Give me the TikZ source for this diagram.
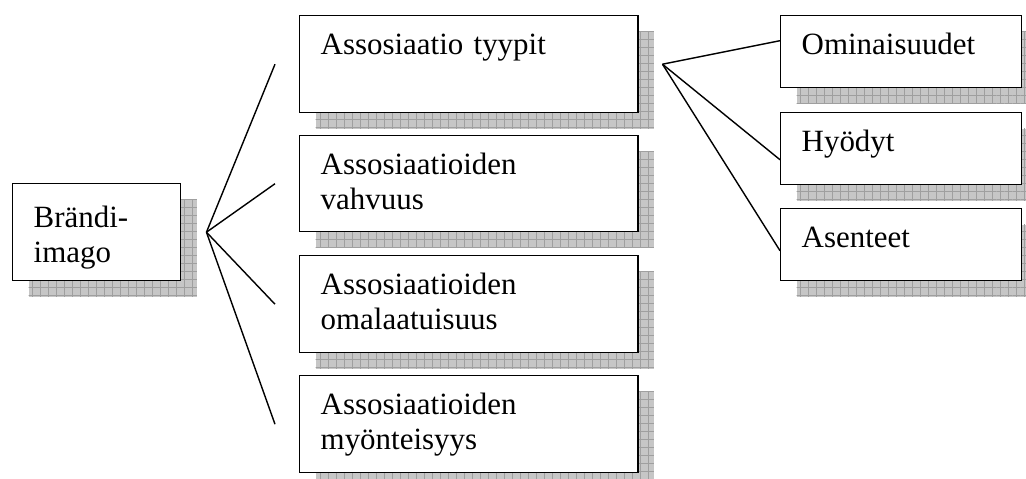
\documentclass[tikz,border=0pt]{standalone}
\usepackage{fontspec}
\setmainfont{Liberation Serif}
\usetikzlibrary{shadows,patterns.meta}

\tikzset{
  box/.style={draw, line width=1pt, fill=white, anchor=north west, align=left,
    inner xsep=0.525cm, inner ysep=0.375cm, text height=0.6cm,
    font=\fontsize{22}{25}\selectfont,
    drop shadow={shadow xshift=0.4cm, shadow yshift=-0.4cm, opacity=1, fill=gray!45,
      postaction={pattern={Hatch[distance=0.2cm, angle=0, line width=0.4pt]}, pattern color=gray!75}}},
  link/.style={line width=1pt}
}

\begin{document}
\begin{tikzpicture}[x=0.025cm,y=-0.025cm]
\useasboundingbox (0,0) rectangle (1026,479);

\node[box, text width=3.15cm, text height=0.725cm, text depth=0.95cm] (brandi) at (12,183) {Brändi-\\imago};

\node[box, text width=7.4cm, text depth=1.075cm] (tyypit) at (299,15) {Assosiaatio tyypit};
\node[box, text width=7.4cm, text depth=1.05cm] (vahvuus) at (299,135) {Assosiaatioiden\\vahvuus};
\node[box, text width=7.4cm, text depth=1.075cm] (omalaatu) at (299,255) {Assosiaatioiden\\omalaatuisuus};
\node[box, text width=7.4cm, text depth=1.075cm] (myonteis) at (299,375) {Assosiaatioiden\\myönteisyys};

\node[box, text width=4.975cm, text depth=0.45cm] (omin) at (780,15) {Ominaisuudet};
\node[box, text width=4.975cm, text depth=0.45cm] (hyodyt) at (780,112) {Hyödyt};
\node[box, text width=4.975cm, text depth=0.45cm] (asenteet) at (780,208) {Asenteet};

\coordinate (fork) at ([xshift=0.625cm]brandi.east);
\coordinate (fork2) at ([xshift=0.6cm]tyypit.east);

\draw[link] (fork) -- ([xshift=-0.6cm]tyypit.west);
\draw[link] (fork) -- ([xshift=-0.6cm]vahvuus.west);
\draw[link] (fork) -- ([xshift=-0.6cm]omalaatu.west);
\draw[link] (fork) -- ([xshift=-0.6cm]myonteis.west);

\draw[link] (fork2) -- ([yshift=0.275cm]omin.west);
\draw[link] (fork2) -- ([yshift=-0.275cm]hyodyt.west);
\draw[link] (fork2) -- ([yshift=-0.15cm]asenteet.west);
\end{tikzpicture}
\end{document}
